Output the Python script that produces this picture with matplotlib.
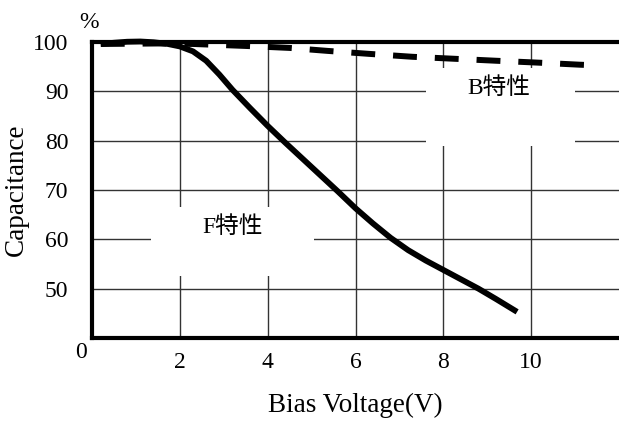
import matplotlib
matplotlib.use("Agg")
import matplotlib.pyplot as plt
from matplotlib.patches import Rectangle

# ---- data ----
f_x = [0.2, 0.5, 0.8, 1.1, 1.4, 1.7, 2.0, 2.3, 2.6, 2.9, 3.2, 3.6, 4.0, 4.4, 4.8, 5.2, 5.6, 6.0, 6.4, 6.8, 7.2, 7.6, 8.0, 8.4, 8.8, 9.2, 9.68]
f_y = [99.6, 99.85, 100.05, 100.1, 99.95, 99.65, 99.1, 98.1, 96.2, 93.4, 90.3, 86.6, 83.0, 79.6, 76.3, 73.0, 69.7, 66.3, 63.2, 60.3, 57.8, 55.7, 53.8, 51.9, 50.0, 47.9, 45.3]
b_x = [0.2, 1.5, 2.3, 3.5, 4.5, 5.36, 6.3, 7.3, 8.25, 9.2, 10.2, 11.1, 11.4]
b_y = [99.6, 99.7, 99.6, 99.2, 98.8, 98.2, 97.6, 97.0, 96.6, 96.2, 95.8, 95.4, 95.3]
x_ticks = [2, 4, 6, 8, 10]
x_tick_labels = ["2", "4", "6", "8", "10"]
y_ticks = [50, 60, 70, 80, 90, 100]
y_tick_labels = ["50", "60", "70", "80", "90", "100"]
label_b = "B特性"
label_f = "F特性"

serif = ["Liberation Serif", "DejaVu Serif"]
mixed = ["Liberation Serif", "Noto Sans CJK JP", "DejaVu Sans"]
plt.rcParams["font.family"] = mixed

fig = plt.figure(figsize=(6.19, 4.23), dpi=100)
ax = fig.add_axes([92 / 619, (423 - 338) / 423, (619 - 92) / 619, (338 - 42) / 423])
ax.set_xlim(0, 12)
ax.set_ylim(40, 100)

# grid
for gx in x_ticks:
    ax.axvline(gx, color="#333333", lw=1.0, zorder=1)
for gy in y_ticks[:-1]:
    ax.axhline(gy, color="#333333", lw=1.0, zorder=1)

# white label boxes interrupting the grid
ax.add_patch(Rectangle((7.61, 79.0), 11.0 - 7.61, 94.75 - 79.0, facecolor="white", edgecolor="none", zorder=2))
ax.add_patch(Rectangle((1.34, 52.5), 5.05 - 1.34, 66.5 - 52.5, facecolor="white", edgecolor="none", zorder=2))
ax.text(9.27, 90.6, label_b, ha="center", va="center", fontsize=17, zorder=3)
ax.text(3.2, 62.4, label_f, ha="center", va="center", fontsize=17, zorder=3)

# curves
ax.plot(f_x, f_y, color="black", lw=4.2, solid_capstyle="butt", solid_joinstyle="round", zorder=4, clip_on=False)
ax.plot(b_x, b_y, color="black", lw=4.3, dashes=(4, 3), dash_capstyle="butt", zorder=4, clip_on=False)

# spines
for s in ["left", "bottom", "top"]:
    ax.spines[s].set_linewidth(3.0)
    ax.spines[s].set_zorder(5)
ax.spines["right"].set_visible(False)

ax.set_xticks(x_ticks)
ax.set_xticklabels(x_tick_labels, family=serif, fontsize=17)
ax.set_yticks(y_ticks)
ax.set_yticklabels(y_tick_labels, family=serif, fontsize=17)
ax.tick_params(axis="both", length=0)
ax.tick_params(axis="y", pad=17)
ax.tick_params(axis="x", pad=10)

ax.text(-0.25, 37.0, "0", ha="center", va="center", family=serif, fontsize=17, clip_on=False)
ax.text(-0.07, 104.0, "%", ha="center", va="center", family=serif, fontsize=17, clip_on=False)

ax.set_ylabel("Capacitance", family=serif, fontsize=19.5)
ax.set_xlabel("Bias Voltage(V)", family=serif, fontsize=19.5)
ax.xaxis.set_label_coords((355 - 92) / 527, -(393 - 338) / 296)
ax.yaxis.set_label_coords(-(92 - 29) / 527, 0.5)

fig.savefig("out.png", dpi=100)
